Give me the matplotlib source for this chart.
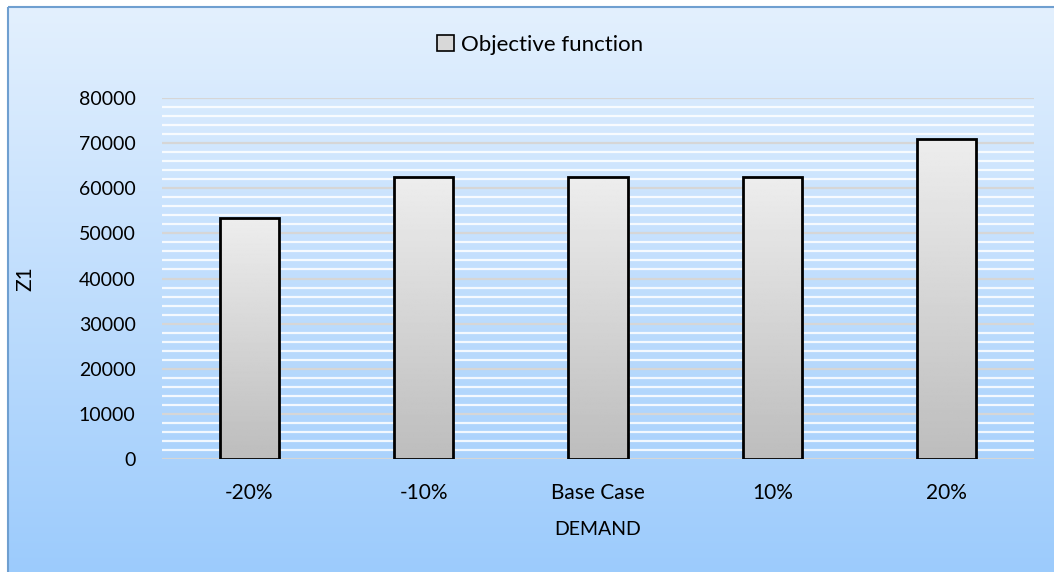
import numpy as np
import matplotlib.pyplot as plt
from matplotlib.patches import Rectangle, Patch
from matplotlib.ticker import MultipleLocator

plt.rcParams['font.family'] = ['Lato', 'DejaVu Sans']

categories = ['-20%', '-10%', 'Base Case', '10%', '20%']
z1_values = [53300, 62400, 62400, 62400, 70900]
series_name = 'Objective function'

W, H = 1054, 572
fig = plt.figure(figsize=(W / 100, H / 100), dpi=100)
fig.patch.set_facecolor('white')

# chart area background: vertical blue gradient inside a thin border
bg = fig.add_axes([0, 0, 1, 1])
bg.set_xlim(0, W)
bg.set_ylim(H, 0)
bg.axis('off')
top_c = np.array([227, 240, 254]) / 255
bot_c = np.array([156, 203, 252]) / 255
t = np.linspace(0, 1, 256)[:, None]
grad = top_c * (1 - t[..., None]) + bot_c * t[..., None]
grad = np.repeat(grad, 2, axis=1)
bg.imshow(grad, extent=(8, W + 2, H + 2, 7), aspect='auto', zorder=0)
bg.add_patch(Rectangle((8, 7), W - 6, H - 5, fill=False,
                       edgecolor='#6f9fd0', linewidth=1.5, zorder=1))

# plot area
left, right, top, bottom = 162, 1034, 98, 459
ax = fig.add_axes([left / W, 1 - bottom / H, (right - left) / W, (bottom - top) / H])
ax.patch.set_alpha(0)
for s in ax.spines.values():
    s.set_visible(False)

x = np.arange(len(categories))

# minor white lines every 2000, major grey lines every 10000
for v in range(2000, 80000, 2000):
    if v % 10000:
        ax.axhline(v, color='white', lw=1.6, alpha=0.85, zorder=1)
for v in range(0, 80001, 10000):
    ax.axhline(v, color='#d6d6d6', lw=1.6, zorder=1.5)

# gray gradient bars with black outline
bar_grad = np.linspace(0.93, 0.74, 256)[:, None]
bars = ax.bar(x, z1_values, width=0.34, facecolor='none',
              edgecolor='black', linewidth=2, zorder=3)
for b in bars:
    x0, w, h = b.get_x(), b.get_width(), b.get_height()
    # soft shadow
    ax.add_patch(Rectangle((x0 + 0.006, -300), w, h, facecolor='#7a8ea5',
                           alpha=0.25, edgecolor='none', zorder=2))
    im = ax.imshow(bar_grad, cmap='gray', vmin=0, vmax=1, aspect='auto',
                   extent=(x0, x0 + w, 0, h), zorder=2.5)
    im.set_clip_path(b)
ax.set_xlim(-0.5, len(categories) - 0.5)
ax.set_ylim(0, 80000)

ax.set_xticks(x)
ax.set_xticklabels(categories, fontsize=15)
ax.yaxis.set_major_locator(MultipleLocator(10000))
ax.tick_params(axis='y', labelsize=14, length=0, pad=19)
ax.tick_params(axis='x', length=0, pad=17)
ax.set_ylabel('Z1', fontsize=15, labelpad=31)
ax.set_xlabel('DEMAND', fontsize=14, labelpad=13)

handle = Patch(facecolor='#d8d8d8', edgecolor='black', linewidth=1.2)
fig.legend([handle], [series_name], loc='center', bbox_to_anchor=(540 / W, 1 - 45 / H),
           frameon=False, fontsize=16, handlelength=0.75, handleheight=0.75,
           handletextpad=0.3)

fig.savefig('out.png', dpi=100, facecolor='white')
